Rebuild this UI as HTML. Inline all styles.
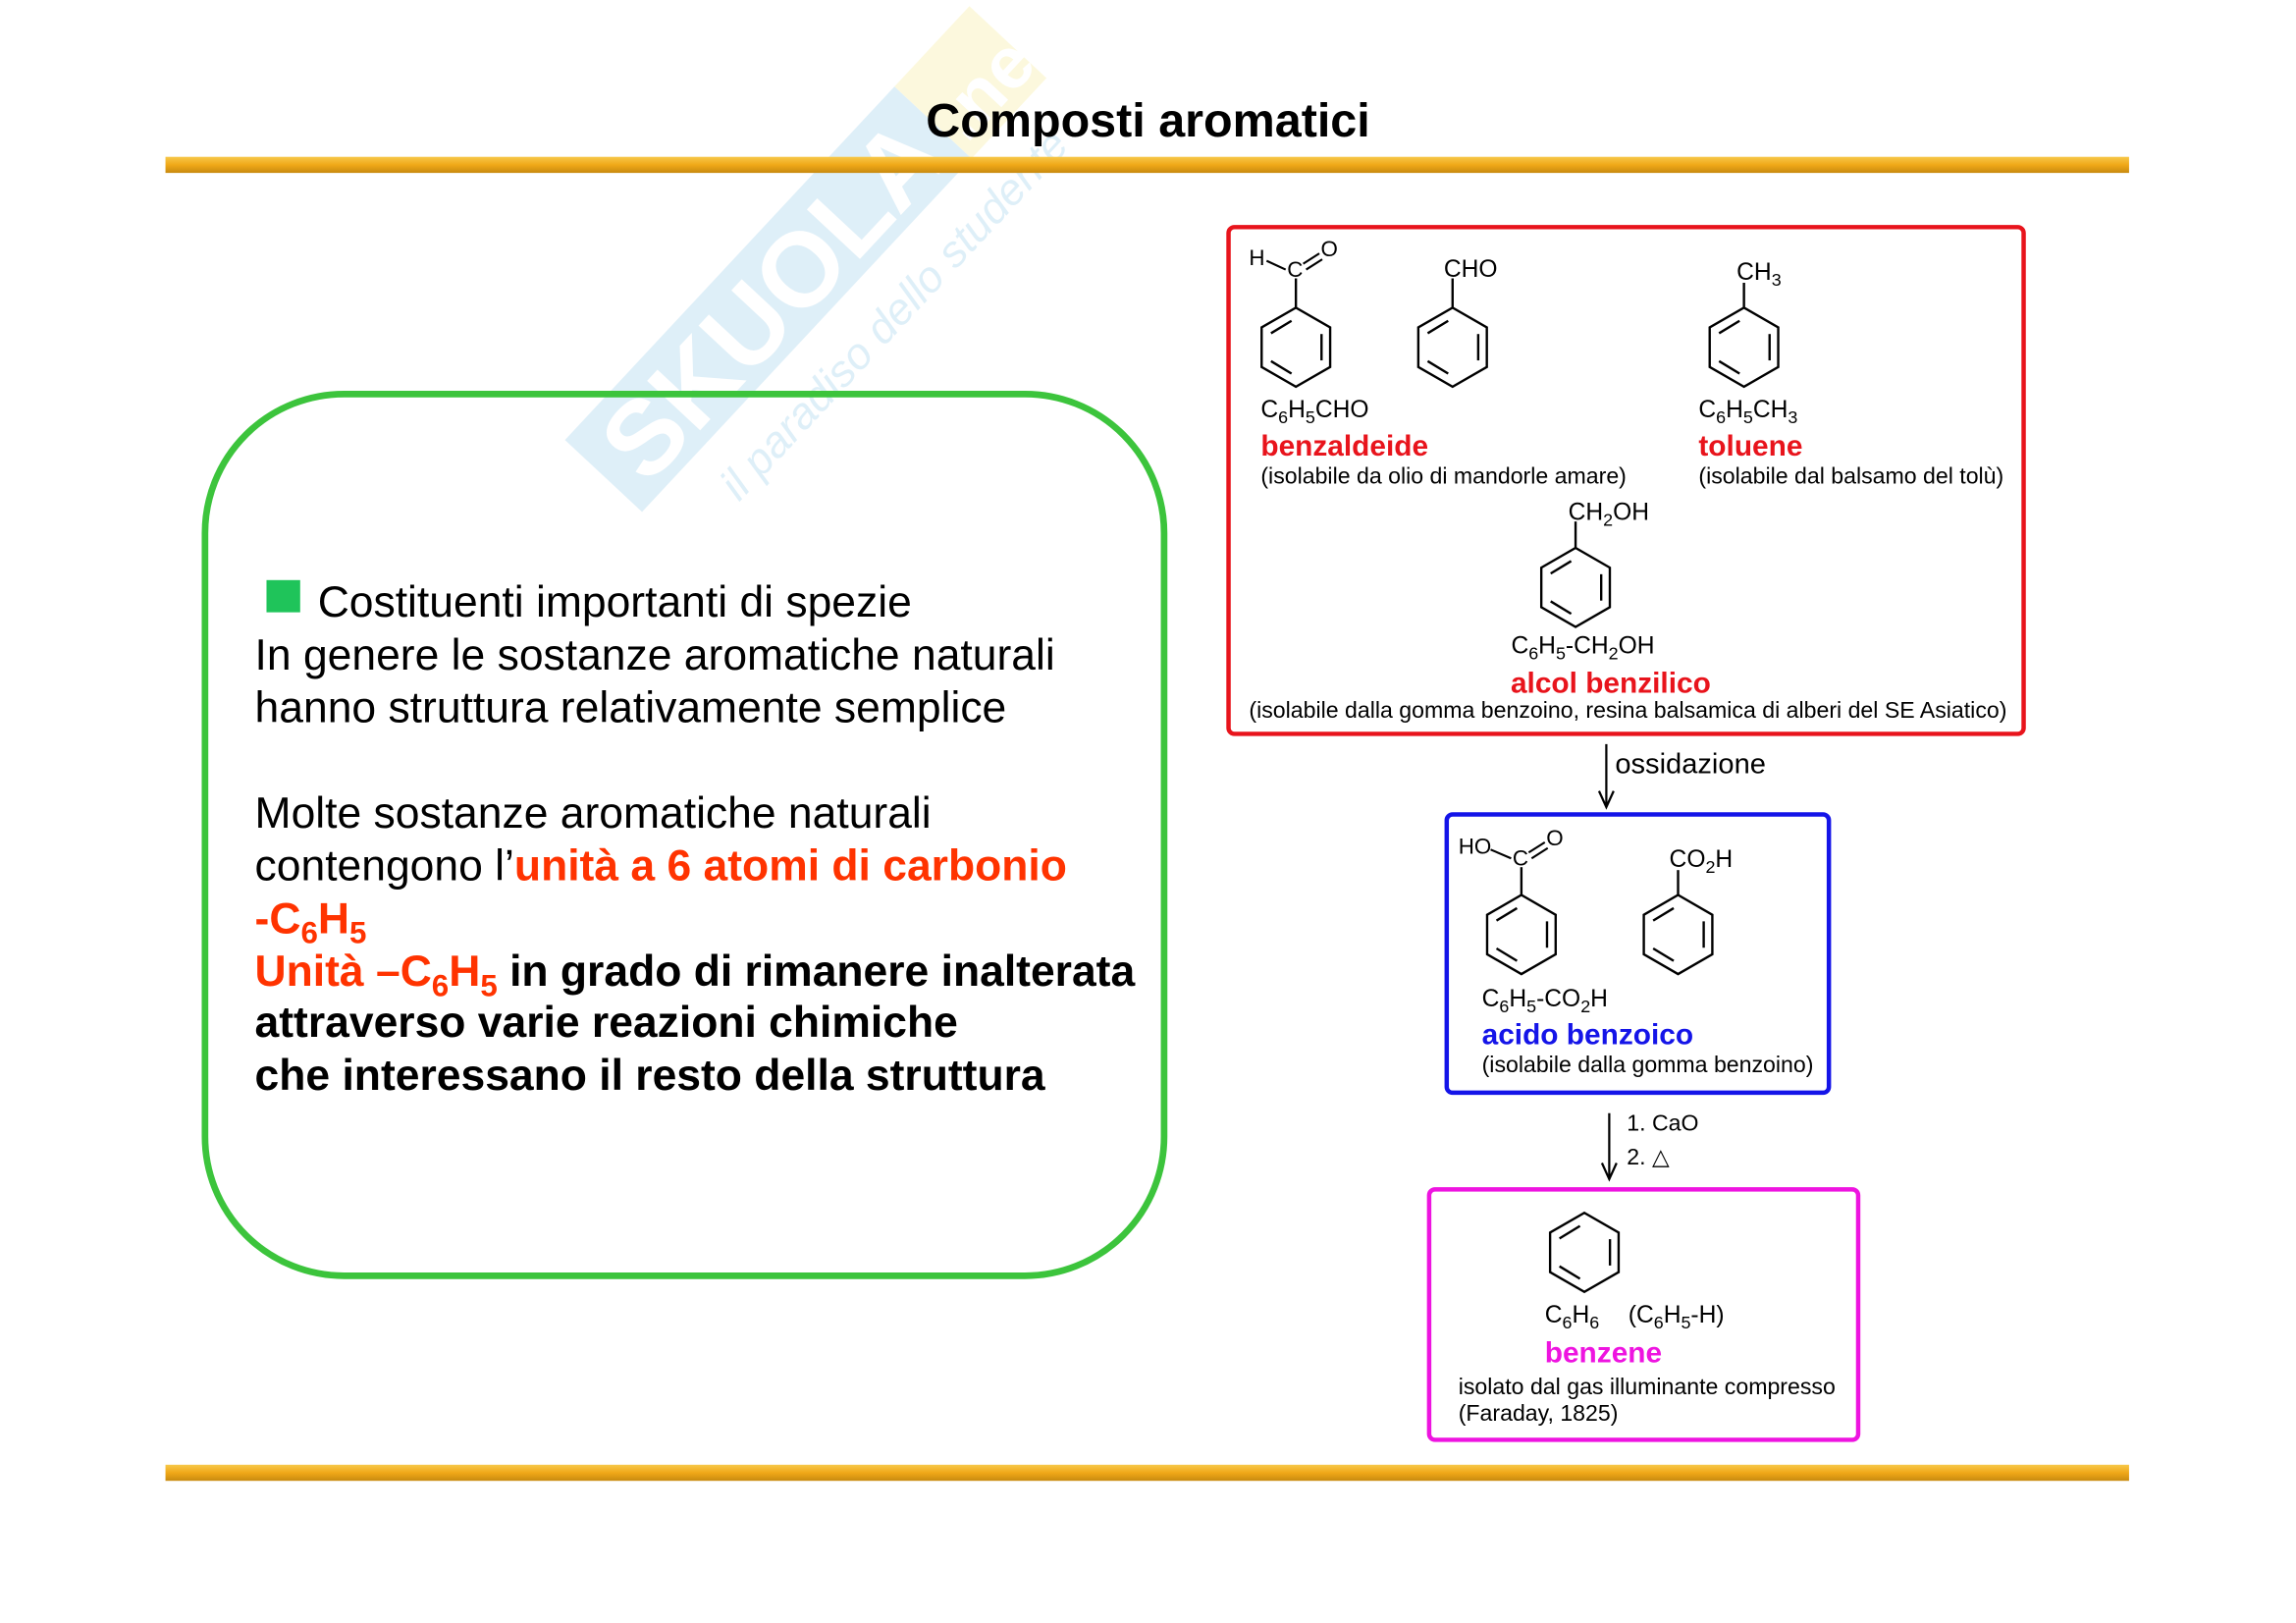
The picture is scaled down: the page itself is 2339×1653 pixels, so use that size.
<!DOCTYPE html>
<html><head><meta charset="utf-8"><style>
html,body{margin:0;padding:0;background:#fff;}
svg{display:block;}
text{font-family:"Liberation Sans",Arial,sans-serif;}
</style></head><body>
<svg width="2339" height="1653" viewBox="0 0 1568 1108" xmlns="http://www.w3.org/2000/svg">
<defs>
<linearGradient id="bar" x1="0" y1="0" x2="0" y2="1">
<stop offset="0" stop-color="#f7c84a"/><stop offset="0.5" stop-color="#f0a818"/><stop offset="1" stop-color="#c88a10"/>
</linearGradient>
<g id="ring" fill="none" stroke="#000" stroke-width="1.6">
<polygon points="0,-27 23.4,-13.5 23.4,13.5 0,27 -23.4,13.5 -23.4,-13.5"/>
<line x1="17.5" y1="-9" x2="17.5" y2="9"/>
<line x1="-17" y1="-9.5" x2="-3" y2="-18"/>
<line x1="-17" y1="9.5" x2="-3" y2="18"/>
</g>
</defs>
<!-- watermark -->
<g transform="translate(550,180) rotate(-47)" opacity="0.22">
<rect x="-200" y="-38" width="330" height="72" fill="#6fb8e0"/>
<rect x="130" y="-38" width="75" height="72" fill="#f3e36a"/>
<text x="-185" y="25" font-size="72" font-weight="bold" fill="#fff">SKUOLA</text>
<text x="135" y="25" font-size="50" font-weight="bold" fill="#fff">.net</text>
<text x="-150" y="78" font-size="30" font-style="italic" fill="#6fb8e0">il paradiso dello studente</text>
</g>
<text x="784" y="93" font-size="32.5" font-weight="bold" text-anchor="middle" fill="#000">Composti aromatici</text>
<rect x="113" y="107" width="1341" height="11" fill="url(#bar)"/>
<rect x="113" y="1000" width="1341" height="11" fill="url(#bar)"/>

<!-- green box -->
<rect x="140" y="269" width="655" height="602" rx="95" ry="95" fill="none" stroke="#3cc43c" stroke-width="4.5"/>
<rect x="182" y="396" width="23" height="22" fill="#1fc45a"/>
<g font-size="29.8" fill="#000">
<text x="217" y="421">Costituenti importanti di spezie</text>
<text x="174" y="457">In genere le sostanze aromatiche naturali</text>
<text x="174" y="493">hanno struttura relativamente semplice</text>
<text x="174" y="565">Molte sostanze aromatiche naturali</text>
<text x="174" y="601">contengono l’<tspan fill="#ff3300" font-weight="bold">unità a 6 atomi di carbonio</tspan></text>
<text x="174" y="637" fill="#ff3300" font-weight="bold">-C<tspan font-size="21" dy="7">6</tspan><tspan dy="-7">H</tspan><tspan font-size="21" dy="7">5</tspan></text>
<text x="174" y="673" font-weight="bold"><tspan fill="#ff3300">Unità –C</tspan><tspan fill="#ff3300" font-size="21" dy="7">6</tspan><tspan fill="#ff3300" dy="-7">H</tspan><tspan fill="#ff3300" font-size="21" dy="7">5</tspan><tspan dy="-7"> in grado di rimanere inalterata</tspan></text>
<text x="174" y="708" font-weight="bold">attraverso varie reazioni chimiche</text>
<text x="174" y="744" font-weight="bold">che interessano il resto della struttura</text>
</g>

<!-- red box -->
<rect x="839" y="155" width="543" height="346" rx="4" fill="none" stroke="#e8141c" stroke-width="3"/>
<use href="#ring" x="885" y="237"/>
<line x1="885" y1="210" x2="885" y2="190" stroke="#000" stroke-width="1.6"/>
<line x1="865" y1="178" x2="878" y2="184" stroke="#000" stroke-width="1.4"/>
<line x1="890" y1="180" x2="901" y2="173" stroke="#000" stroke-width="1.4"/>
<line x1="892" y1="184" x2="903" y2="177" stroke="#000" stroke-width="1.4"/>
<g font-size="15" fill="#000">
<text x="853" y="181">H</text><text x="879" y="189">C</text><text x="902" y="175">O</text>
</g>
<use href="#ring" x="992" y="237"/>
<line x1="992" y1="210" x2="992" y2="190" stroke="#000" stroke-width="1.6"/>
<text x="986" y="189" font-size="16.5">CHO</text>
<use href="#ring" x="1191" y="237"/>
<line x1="1191" y1="210" x2="1191" y2="193" stroke="#000" stroke-width="1.6"/>
<text x="1186" y="191" font-size="16.5">CH<tspan font-size="12" dy="4">3</tspan></text>
<text x="861" y="285" font-size="16.5">C<tspan font-size="12" dy="4">6</tspan><tspan dy="-4">H</tspan><tspan font-size="12" dy="4">5</tspan><tspan dy="-4">CHO</tspan></text>
<text x="861" y="311" font-size="20" font-weight="bold" fill="#e8141c">benzaldeide</text>
<text x="861" y="330" font-size="15.5">(isolabile da olio di mandorle amare)</text>
<text x="1160" y="285" font-size="16.5">C<tspan font-size="12" dy="4">6</tspan><tspan dy="-4">H</tspan><tspan font-size="12" dy="4">5</tspan><tspan dy="-4">CH</tspan><tspan font-size="12" dy="4">3</tspan></text>
<text x="1160" y="311" font-size="20" font-weight="bold" fill="#e8141c">toluene</text>
<text x="1160" y="330" font-size="15.5">(isolabile dal balsamo del tolù)</text>
<use href="#ring" x="1076" y="401"/>
<line x1="1076" y1="374" x2="1076" y2="356" stroke="#000" stroke-width="1.6"/>
<text x="1071" y="355" font-size="16.5">CH<tspan font-size="12" dy="4">2</tspan><tspan dy="-4">OH</tspan></text>
<text x="1032" y="446" font-size="16.5">C<tspan font-size="12" dy="4">6</tspan><tspan dy="-4">H</tspan><tspan font-size="12" dy="4">5</tspan><tspan dy="-4">-CH</tspan><tspan font-size="12" dy="4">2</tspan><tspan dy="-4">OH</tspan></text>
<text x="1100" y="473" font-size="20" font-weight="bold" fill="#e8141c" text-anchor="middle">alcol benzilico</text>
<text x="853" y="490" font-size="15.5">(isolabile dalla gomma benzoino, resina balsamica di alberi del SE Asiatico)</text>

<!-- arrow 1 -->
<line x1="1097" y1="508" x2="1097" y2="550" stroke="#000" stroke-width="1.5"/>
<polyline points="1092,540 1097,551 1102,540" fill="none" stroke="#000" stroke-width="1.5"/>
<text x="1103" y="528" font-size="19.5">ossidazione</text>

<!-- blue box -->
<rect x="988" y="556" width="261" height="190" rx="4" fill="none" stroke="#1414e8" stroke-width="3"/>
<use href="#ring" x="1039" y="638"/>
<line x1="1039" y1="611" x2="1039" y2="592" stroke="#000" stroke-width="1.6"/>
<line x1="1018" y1="580" x2="1032" y2="586" stroke="#000" stroke-width="1.4"/>
<line x1="1044" y1="582" x2="1055" y2="575" stroke="#000" stroke-width="1.4"/>
<line x1="1046" y1="586" x2="1057" y2="579" stroke="#000" stroke-width="1.4"/>
<g font-size="15"><text x="996" y="583">HO</text><text x="1033" y="591">C</text><text x="1056" y="577">O</text></g>
<use href="#ring" x="1146" y="638"/>
<line x1="1146" y1="611" x2="1146" y2="594" stroke="#000" stroke-width="1.6"/>
<text x="1140" y="592" font-size="16.5">CO<tspan font-size="12" dy="4">2</tspan><tspan dy="-4">H</tspan></text>
<text x="1012" y="687" font-size="16.5">C<tspan font-size="12" dy="4">6</tspan><tspan dy="-4">H</tspan><tspan font-size="12" dy="4">5</tspan><tspan dy="-4">-CO</tspan><tspan font-size="12" dy="4">2</tspan><tspan dy="-4">H</tspan></text>
<text x="1012" y="713" font-size="20" font-weight="bold" fill="#1414e8">acido benzoico</text>
<text x="1012" y="732" font-size="15.5">(isolabile dalla gomma benzoino)</text>

<!-- arrow 2 -->
<line x1="1099" y1="760" x2="1099" y2="804" stroke="#000" stroke-width="1.5"/>
<polyline points="1094,794 1099,805 1104,794" fill="none" stroke="#000" stroke-width="1.5"/>
<text x="1111" y="772" font-size="15.5">1. CaO</text>
<text x="1111" y="795" font-size="15.5">2. △</text>

<!-- magenta box -->
<rect x="976" y="812" width="293" height="171" rx="4" fill="none" stroke="#ee14e0" stroke-width="3"/>
<use href="#ring" x="1082" y="855"/>
<text x="1055" y="903" font-size="16.5">C<tspan font-size="12" dy="4">6</tspan><tspan dy="-4">H</tspan><tspan font-size="12" dy="4">6</tspan></text>
<text x="1112" y="903" font-size="16.5">(C<tspan font-size="12" dy="4">6</tspan><tspan dy="-4">H</tspan><tspan font-size="12" dy="4">5</tspan><tspan dy="-4">-H)</tspan></text>
<text x="1055" y="930" font-size="20" font-weight="bold" fill="#ee14e0">benzene</text>
<text x="996" y="952" font-size="15.5">isolato dal gas illuminante compresso</text>
<text x="996" y="970" font-size="15.5">(Faraday, 1825)</text>
</svg>
</body></html>
